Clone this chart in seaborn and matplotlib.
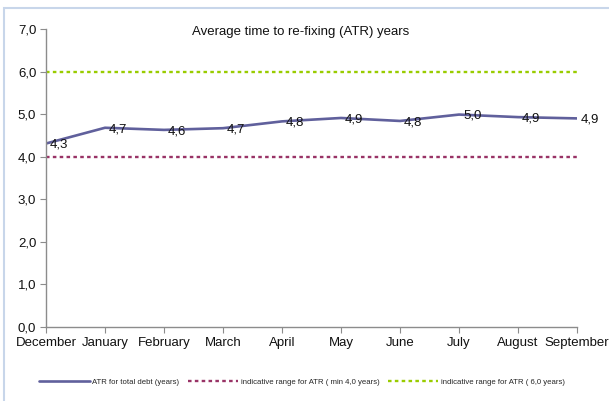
"""Average time to re-fixing (ATR) line chart."""

import matplotlib

matplotlib.use("Agg")

import matplotlib.pyplot as plt
import pandas as pd
import seaborn as sns
from matplotlib.lines import Line2D
from matplotlib.patches import Rectangle
from matplotlib.ticker import FuncFormatter

months = ["December", "January", "February", "March", "April",
          "May", "June", "July", "August", "September"]
atr_total = [4.31, 4.68, 4.63, 4.67, 4.83, 4.91, 4.84, 4.99, 4.93, 4.90]
range_min = [4.0] * len(months)
range_max = [6.0] * len(months)

title = "Average time to re-fixing (ATR) years"
legend_labels = [
    "ATR for total debt (years)",
    "indicative range for ATR ( min 4,0 years)",
    "indicative range for ATR ( 6,0 years)",
]

LINE_COLOR = "#60609c"
MIN_COLOR = "#993366"
MAX_COLOR = "#99CC00"
AXIS_GRAY = "#8c8c8c"

sns.set_theme(style="ticks")
plt.rcParams["font.family"] = ["Liberation Sans", "DejaVu Sans"]

df = pd.DataFrame({"month": months, "atr": atr_total,
                   "min": range_min, "max": range_max})
df["pos"] = range(len(df))

fig = plt.figure(figsize=(6.09, 4.01), dpi=100)
ax = fig.add_axes([46 / 609, 1 - 327 / 401, 531 / 609, 298 / 401])

dots = (1.5, 1.4)
sns.lineplot(data=df, x="pos", y="max", ax=ax, color=MAX_COLOR, lw=1.7,
             dashes=False, legend=False)
sns.lineplot(data=df, x="pos", y="min", ax=ax, color=MIN_COLOR, lw=1.7,
             dashes=False, legend=False)
sns.lineplot(data=df, x="pos", y="atr", ax=ax, color=LINE_COLOR, lw=1.9,
             legend=False)
for ln in ax.lines[:2]:
    ln.set_dashes(dots)
    ln.set_dash_capstyle("butt")

for x, v in zip(df["pos"], df["atr"]):
    ax.annotate(f"{v:.1f}".replace(".", ","), (x, v), xytext=(3, -1),
                textcoords="offset points", ha="left", va="center",
                fontsize=9.5, color="#111111")

ax.set_xlim(0, len(months) - 1)
ax.set_ylim(0, 7)
ax.set_xticks(df["pos"])
ax.set_xticklabels(months)
ax.set_yticks(range(0, 8))
ax.yaxis.set_major_formatter(FuncFormatter(lambda v, _: f"{v:.1f}".replace(".", ",")))
ax.set_xlabel("")
ax.set_ylabel("")
sns.despine(ax=ax)
for side in ("left", "bottom"):
    ax.spines[side].set_color(AXIS_GRAY)
    ax.spines[side].set_linewidth(1.0)
ax.tick_params(axis="both", direction="out", length=4, width=0.8,
               color=AXIS_GRAY, labelsize=9.5, labelcolor="#111111")
ax.tick_params(axis="x", pad=3)
ax.tick_params(axis="y", pad=3)

fig.text(301 / 609, 1 - 32 / 401, title, ha="center", va="center",
         fontsize=9.5, color="#111111")

handles = [
    Line2D([], [], color=LINE_COLOR, lw=1.9),
    Line2D([], [], color=MIN_COLOR, lw=1.7, dashes=dots, dash_capstyle="butt"),
    Line2D([], [], color=MAX_COLOR, lw=1.7, dashes=dots, dash_capstyle="butt"),
]
fig.legend(handles, legend_labels, loc="center", bbox_to_anchor=(302 / 609, 1 - 382 / 401),
           ncol=3, frameon=False, fontsize=5.6, handlelength=6.5,
           handletextpad=0.3, columnspacing=1.1)

fig.add_artist(Rectangle((3.5 / 609, -0.1), 1.2, 1.1 - 7.5 / 401,
                         transform=fig.transFigure, fill=False,
                         edgecolor="#c8d6ea", lw=1.5))

fig.savefig("out.png", dpi=100)
